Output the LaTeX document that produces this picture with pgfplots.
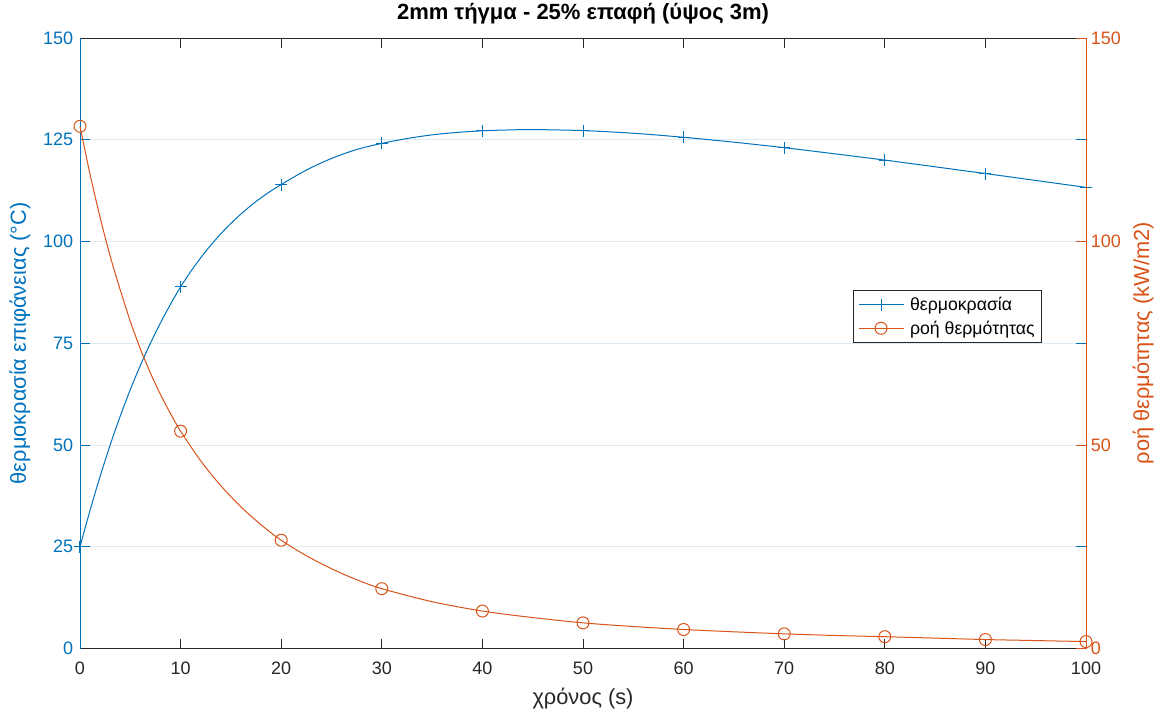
\documentclass[border=0pt]{standalone}
\usepackage{fontspec}
\setmainfont{Liberation Sans}
\usepackage{pgfplots}
\usepackage{pgfplotstable}
\pgfplotsset{compat=1.18}
\definecolor{mblue}{RGB}{0,114,189}
\definecolor{morange}{RGB}{217,83,25}
\definecolor{mgray}{RGB}{38,38,38}
\definecolor{mgrid}{RGB}{222,235,245}

\pgfplotstableread{
t T
0 25.0
1 33.95
2 42.3
3 50.0
4 57.1
5 63.6
6 69.55
7 75.0
8 80.0
9 84.6
10 88.85
11 92.6
12 96.0
13 99.1
14 101.9
15 104.45
16 106.75
17 108.85
18 110.75
19 112.45
20 114.0
22.5 117.55
25 120.4
27.5 122.6
30 124.1
32.5 125.3
35 126.2
37.5 126.8
40 127.2
42.5 127.4
45 127.5
50 127.25
55 126.6
60 125.6
65 124.4
70 123.05
75 121.55
80 120.0
85 118.35
90 116.7
95 115.0
100 113.3
}\tempdata

\pgfplotstableread{
t T
0 25.0
10 88.85
20 114.0
30 124.1
40 127.2
50 127.25
60 125.6
70 123.05
80 120.0
90 116.7
100 113.3
}\tempmarks

\pgfplotstableread{
t q
0 128.3
1 116.5
2 105.9
3 96.4
4 88.1
5 80.4
6 73.6
7 67.7
8 62.4
9 57.7
10 53.4
12 46.1
14 40.0
16 34.8
18 30.4
20 26.6
22.5 22.8
25 19.6
27.5 16.9
30 14.7
35 11.5
40 9.2
45 7.6
50 6.3
55 5.4
60 4.67
65 4.1
70 3.6
75 3.2
80 2.9
85 2.55
90 2.2
95 1.95
100 1.7
}\fluxdata

\pgfplotstableread{
t q
0 128.3
10 53.4
20 26.6
30 14.7
40 9.2
50 6.3
60 4.67
70 3.6
80 2.9
90 2.2
100 1.7
}\fluxmarks

\begin{document}
\begin{tikzpicture}
\pgfplotsset{
  common/.style={
    width=1006pt, height=610.5pt, scale only axis,
    xmin=0, xmax=100, ymin=0, ymax=150,
    tick align=inside,
    major tick length=10pt,
    /pgf/number format/assume math mode=true,
    ticklabel style={font=\fontsize{18}{20}\selectfont},
    label style={font=\fontsize{21.8}{26}\selectfont},
    clip=false,
  }
}
\begin{axis}[common,
  separate axis lines,
  x axis line style={draw=mgray, line width=0.8pt},
  y axis line style={draw=mblue, line width=0.8pt},
  xtick={0,10,...,100}, xtick pos=both, xticklabel pos=bottom,
  x tick style={mgray, line width=0.8pt},
  xticklabel style={text=mgray, yshift=-9.5pt},
  ytick={0,25,...,150}, ytick pos=both, yticklabel pos=left,
  y tick style={mblue, line width=0.8pt},
  yticklabel style={text=mblue, xshift=-3.3pt},
  ymajorgrids, grid style={mgrid, line width=0.8pt},
  xlabel={χρόνος (s)},
  xlabel style={text=mgray, at={(axis description cs:0.5,-0.0819)}, anchor=center},
  ylabel={θερμοκρασία επιφάνειας (°C)},
  ylabel style={text=mblue, at={(axis description cs:-0.0596,0.5)}, anchor=center},
  title={2mm τήγμα - 25\% επαφή (ύψος 3m)},
  title style={font=\bfseries\fontsize{22}{26}\selectfont, text=black, at={(axis description cs:0.5,1.0295)}, anchor=center},
]
\addplot[mblue, line width=1pt, smooth, no marks] table[x=t,y=T] {\tempdata};
\addplot[mblue, line width=1pt, only marks, mark=+, mark size=6pt] table[x=t,y=T] {\tempmarks};
\end{axis}

\begin{axis}[common,
  axis x line=none,
  axis y line*=right,
  y axis line style={draw=morange, line width=0.8pt, -},
  ytick={0,50,100,150},
  y tick style={morange, line width=0.8pt},
  yticklabel style={text=morange, xshift=1.3pt},
  ylabel={ροή θερμότητας (kW/m2)},
  ylabel style={text=morange, at={(axis description cs:1.0567,0.5)}, anchor=center},
  legend cell align=left,
  legend image code/.code={\draw[mark repeat=2,mark phase=2,#1] plot coordinates {(0pt,0pt)(22.5pt,0pt)(45pt,0pt)};},
  legend style={at={(0.768,0.587)}, anchor=north west, draw=mgray, line width=0.8pt,
    font=\fontsize{17.7}{21}\selectfont, text=black, inner sep=5pt, row sep=4.5pt,
    /tikz/every odd column/.append style={column sep=4pt}},
]
\addlegendimage{mblue, line width=1pt, mark=+, mark size=6pt}
\addlegendentry{θερμοκρασία}
\addlegendimage{morange, line width=1pt, mark=o, mark size=6pt}
\addlegendentry{ροή θερμότητας}
\addplot[morange, line width=1pt, smooth, no marks, forget plot] table[x=t,y=q] {\fluxdata};
\addplot[morange, line width=1pt, only marks, mark=o, mark size=6pt, forget plot] table[x=t,y=q] {\fluxmarks};
\end{axis}
\pgfresetboundingbox
\path (-80pt,-66.5pt) rectangle (1086pt,648.5pt);
\end{tikzpicture}
\end{document}
